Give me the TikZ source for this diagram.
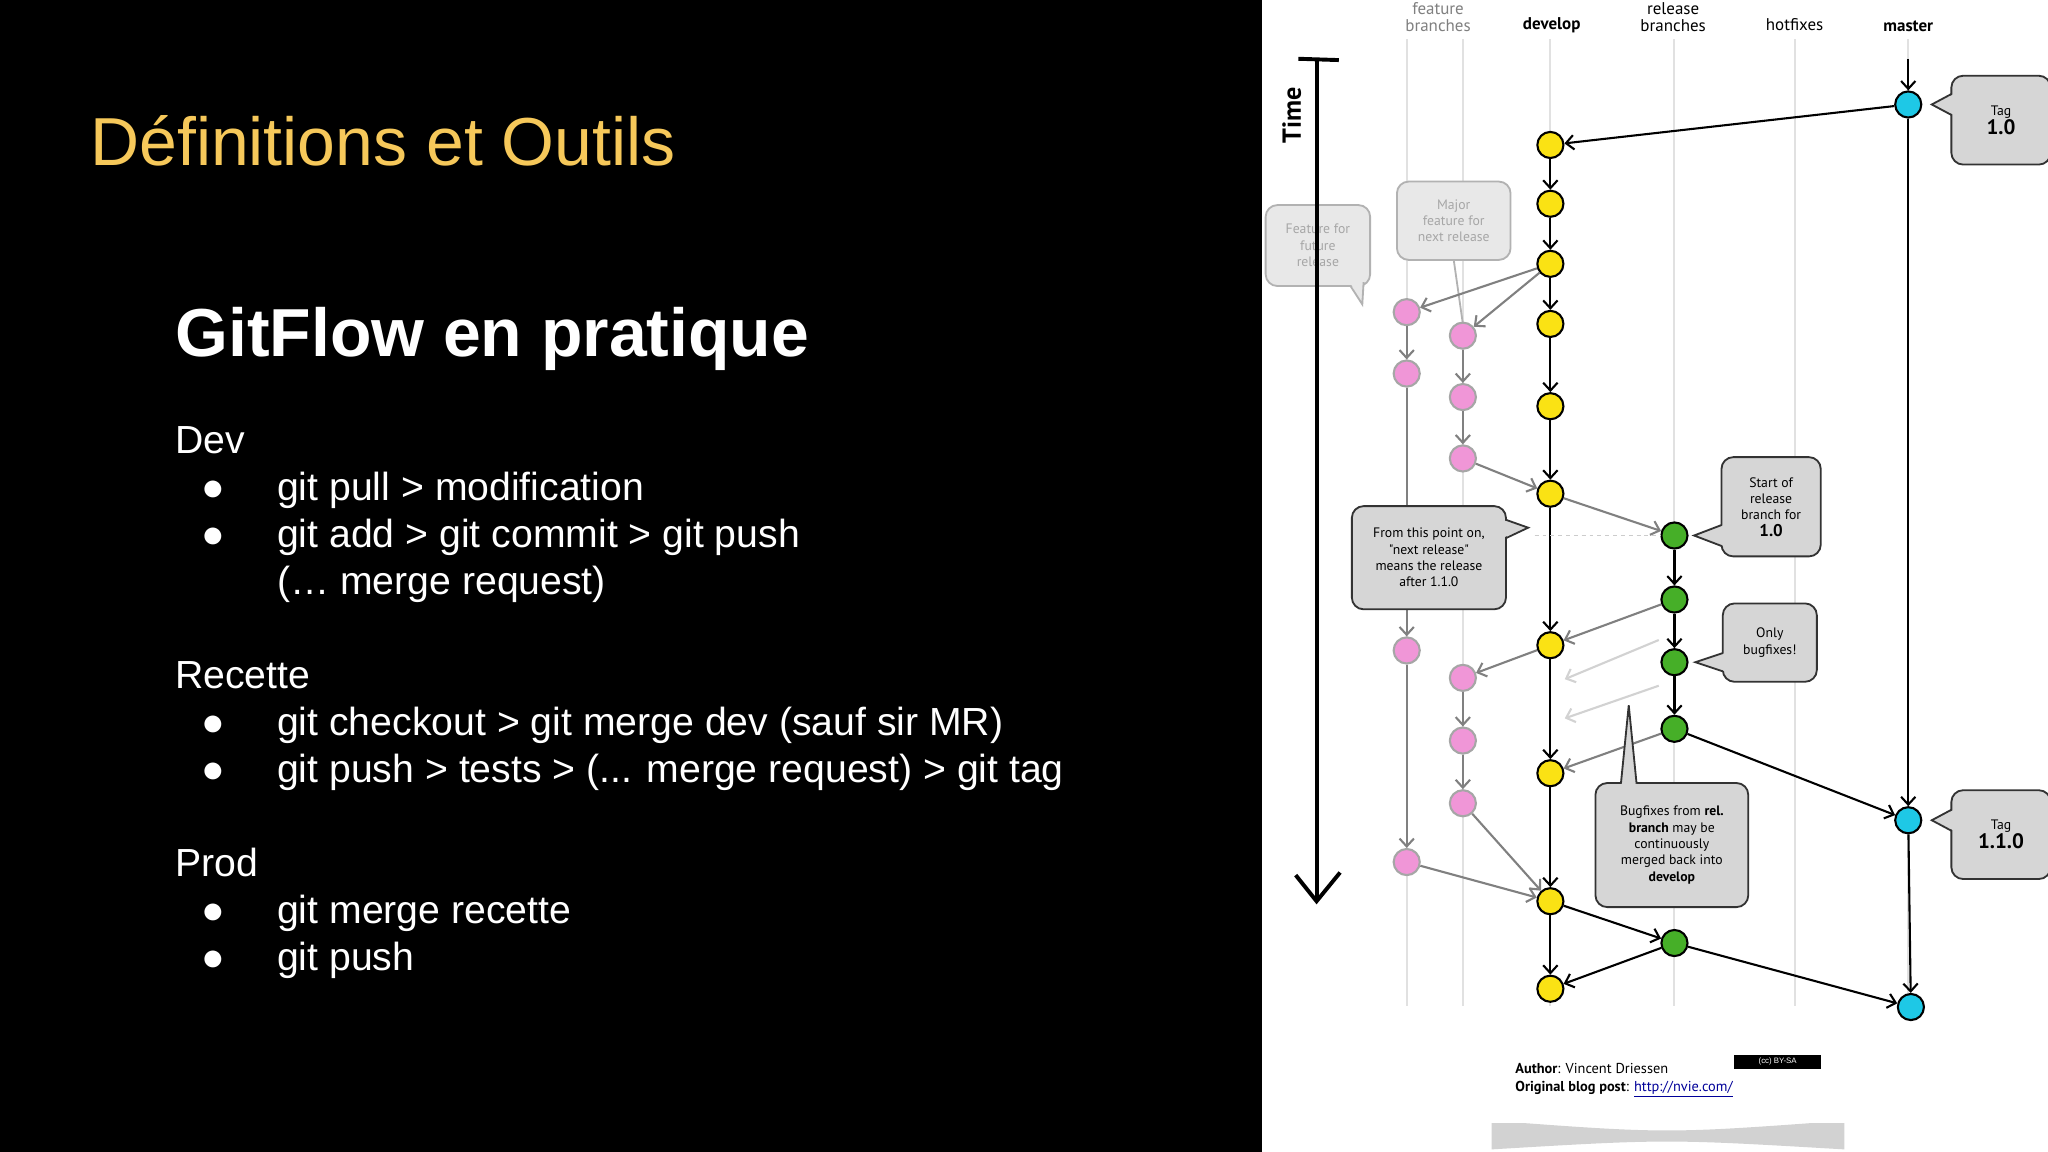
\documentclass[tikz,border=0pt]{standalone}
\usepackage{fontspec}
\setmainfont{Liberation Sans}
\newfontfamily\dia{PT Sans}
\usetikzlibrary{arrows.meta}
\definecolor{titley}{RGB}{246,200,90}
\definecolor{ydev}{RGB}{250,226,20}
\definecolor{pinkf}{RGB}{240,150,215}
\definecolor{greenr}{RGB}{70,175,40}
\definecolor{cyanm}{RGB}{30,200,230}
\definecolor{lane}{RGB}{225,225,225}
\definecolor{cf}{RGB}{214,214,214}
\definecolor{cff}{RGB}{232,232,232}
\tikzset{
  commit/.style={circle,line width=1.6pt,minimum width=18pt,minimum height=20pt,inner sep=0pt},
  dev/.style={commit,draw=black,fill=ydev},
  feat/.style={commit,draw=gray!70,fill=pinkf},
  rel/.style={commit,draw=black,fill=greenr},
  mas/.style={commit,draw=black,fill=cyanm},
  blk/.style={line width=1.6pt,-{Straight Barb[length=6pt,width=11pt]}},
  gry/.style={line width=1.6pt,gray,-{Straight Barb[length=6pt,width=11pt]}},
  fnt/.style={line width=1.6pt,gray!35,-{Straight Barb[length=6pt,width=11pt]}},
  call/.style={draw=black!80,line width=1.4pt,fill=cf,rounded corners=9pt,align=center,font=\dia\fontsize{10.5}{12.5}\selectfont,inner sep=2pt},
  callf/.style={draw=gray!60,line width=1.4pt,fill=cff,rounded corners=9pt,align=center,font=\dia\fontsize{10.5}{12.5}\selectfont,text=gray!70,inner sep=2pt},
  hdr/.style={font=\dia\fontsize{13}{13}\selectfont,align=center},
  body/.style={anchor=base west,text=white,font=\fontsize{30}{32}\selectfont,inner sep=0pt},
  bul/.style={anchor=base,text=white,font=\fontsize{30}{32}\selectfont,inner sep=0pt}
}
\begin{document}
\begin{tikzpicture}[x=1pt,y=-1pt]
\useasboundingbox (0,0) rectangle (1568,882);
\fill[black] (0,0) rectangle (966,882);
\fill[white] (966,0) rectangle (1568,882);
% left text
\node[anchor=base west,text=titley,font=\fontsize{52}{56}\selectfont,inner sep=0pt] (title) at (69,127) {Définitions et Outils};
\node[anchor=base west,text=white,font=\bfseries\fontsize{52}{56}\selectfont,inner sep=0pt] (sub) at (134,273) {GitFlow en pratique};
\node[body] (t1) at (134,347) {Dev};
\node[bul] (b1) at (163,383) {●}; \node[body] (t2) at (212,383) {git pull > modification};
\node[bul] (b2) at (163,419) {●}; \node[body] (t3) at (212,419) {git add > git commit > git push};
\node[body] (t4) at (212,455) {(… merge request)};
\node[body] (t5) at (134,527) {Recette};
\node[bul] (b3) at (163,563) {●}; \node[body] (t6) at (212,563) {git checkout > git merge dev (sauf sir MR)};
\node[bul] (b4) at (163,599) {●}; \node[body] (t7) at (212,599) {git push > tests > (... merge request) > git tag};
\node[body] (t8) at (134,671) {Prod};
\node[bul] (b5) at (163,707) {●}; \node[body] (t9) at (212,707) {git merge recette};
\node[bul] (b6) at (163,743) {●}; \node[body] (t10) at (212,743) {git push};
% lanes
\foreach \x in {1077,1120,1187,1282,1374,1461} \draw[lane,line width=1.5pt] (\x,30) -- (\x,770);
\node[hdr,text=gray] (h1) at (1101,13) {feature\\branches};
\node[hdr,font=\dia\bfseries\fontsize{13}{13}\selectfont] (h2) at (1188,19) {develop};
\node[hdr] (h3) at (1281,13) {release\\branches};
\node[hdr] (h4) at (1374,19) {hotfixes};
\node[hdr,font=\dia\bfseries\fontsize{13}{13}\selectfont] (h5) at (1461,20) {master};
% callouts behind
\node[callf,minimum width=80pt,minimum height=62pt] (cfut) at (1009,188) {Feature for\\future\\release};
\fill[cff] (1034,217) -- (1043,233) -- (1044,214) -- cycle;
\draw[gray!60,line width=1.4pt] (1034,219) -- (1043,233) -- (1044,216);
\node[callf,minimum width=87pt,minimum height=60pt] (cmaj) at (1113,169) {Major\\feature for\\next release};
\draw[gray!60,line width=1.4pt] (1113,199) -- (1120,248);
% time axis
\draw[line width=3pt] (1008,46) -- (1008,690);
\draw[line width=3pt] (994,45) -- (1025,46);
\draw[line width=3pt] (992,670) -- (1008,690) -- (1026,668);
\node[rotate=90,font=\dia\bfseries\fontsize{20}{20}\selectfont] (time) at (989,88) {Time};
% commits
\foreach \n/\y in {d1/111,d2/156,d3/202,d4/248,d5/311,d6/378,d7/494,d8/592,d9/690,d10/757} \node[dev] (\n) at (1187,\y) {};
\node[mas] (m1) at (1461,80) {}; \node[mas] (m2) at (1461,628) {}; \node[mas] (m3) at (1463,771) {};
\coordinate (mtop) at (1461,45);
\foreach \n/\y in {f1/239,f2/286,f3/498,f4/660} \node[feat] (\n) at (1077,\y) {};
\foreach \n/\y in {g1/257,g2/304,g3/351,g4/519,g5/567,g6/615} \node[feat] (\n) at (1120,\y) {};
\foreach \n/\y in {r1/410,r2/459,r3/507,r4/558,r5/722} \node[rel] (\n) at (1282,\y) {};
% edges
\draw[blk] (mtop) -- (m1);
\draw[blk] (m1) -- (d1);
\draw[blk] (d1)--(d2); \draw[blk] (d2)--(d3); \draw[blk] (d3)--(d4); \draw[blk] (d4)--(d5);
\draw[blk] (d5)--(d6); \draw[blk] (d6)--(d7); \draw[blk] (d7)--(d8); \draw[blk] (d8)--(d9); \draw[blk] (d9)--(d10);
\draw[blk] (m1)--(m2); \draw[blk] (m2)--(m3);
\draw[gry] (d3)--(f1); \draw[gry] (d3)--(g1);
\draw[gry] (f1)--(f2); \draw[gry] (f2)--(f3); \draw[gry] (f3)--(f4); \draw[gry] (f4)--(d9);
\draw[gry] (g1)--(g2); \draw[gry] (g2)--(g3); \draw[gry] (g3)--(d6);
\draw[gry] (d7)--(g4); \draw[gry] (g4)--(g5); \draw[gry] (g5)--(g6); \draw[gry] (g6)--(d9);
\draw[gry] (d6)--(r1);
\draw[blk] (r1)--(r2); \draw[blk] (r2)--(r3); \draw[blk] (r3)--(r4);
\draw[gry] (r2)--(d7);
\coordinate (fa1) at (1198,520); \coordinate (fa2) at (1198,550);
\coordinate (fs1) at (1270,490); \coordinate (fs2) at (1270,525);
\draw[fnt] (fs1)--(fa1); \draw[fnt] (fs2)--(fa2);
\draw[gry] (r4)--(d8);
\draw[blk] (r4)--(m2);
\draw[blk] (d9)--(r5); \draw[blk] (r5)--(d10); \draw[blk] (r5)--(m3);
% callouts
\node[call,minimum width=118pt,minimum height=79pt] (cnext) at (1094,427) {From this point on,\\"next release"\\means the release\\after 1.1.0};
\fill[cf] (1150,398) -- (1170,404) -- (1150,412) -- cycle;
\draw[black!80,line width=1.4pt] (1153,398) -- (1170,404) -- (1153,412);
\coordinate (dsh) at (1175,410);
\draw[gray!40,dashed,line width=1pt] (dsh) -- (r1);
\node[call,minimum width=76pt,minimum height=68pt] (tag1) at (1532,92) {Tag\\{\bfseries\fontsize{16}{18}\selectfont 1.0}};
\fill[cf] (1496,72) -- (1479,80) -- (1496,88) -- cycle;
\draw[black!80,line width=1.4pt] (1494,72) -- (1479,80) -- (1494,88);
\node[call,minimum width=76pt,minimum height=68pt] (tag2) at (1532,639) {Tag\\{\bfseries\fontsize{16}{18}\selectfont 1.1.0}};
\fill[cf] (1496,620) -- (1479,628) -- (1496,636) -- cycle;
\draw[black!80,line width=1.4pt] (1494,620) -- (1479,628) -- (1494,636);
\node[call,minimum width=76pt,minimum height=76pt] (cstart) at (1356,388) {Start of\\release\\branch for\\{\bfseries\fontsize{13}{15}\selectfont 1.0}};
\fill[cf] (1320,402) -- (1297,410) -- (1320,418) -- cycle;
\draw[black!80,line width=1.4pt] (1318,402) -- (1297,410) -- (1318,418);
\node[call,minimum width=72pt,minimum height=60pt] (conly) at (1355,492) {Only\\bugfixes!};
\fill[cf] (1321,500) -- (1298,507) -- (1321,514) -- cycle;
\draw[black!80,line width=1.4pt] (1319,500) -- (1298,507) -- (1319,514);
\node[call,minimum width=117pt,minimum height=95pt] (cbug) at (1280,647) {Bugfixes from \textbf{rel.}\\\textbf{branch} may be\\continuously\\merged back into\\\textbf{develop}};
\fill[cf] (1241,602) -- (1247,540) -- (1253,602) -- cycle;
\draw[black!80,line width=1.4pt] (1241,600) -- (1247,540) -- (1253,600);
% author box
\fill[gray!35] (1142,858) .. controls (1276,868) .. (1412,858) -- (1412,880) .. controls (1276,872) .. (1142,880) -- cycle;
\node[fill=white,minimum width=274pt,minimum height=76pt,inner sep=0pt] (auth) at (1276,822) {};
\node[anchor=base west,font=\dia\fontsize{11}{13}\selectfont,inner sep=0pt] (a1) at (1160,822) {\textbf{Author}: Vincent Driessen};
\node[anchor=base west,font=\dia\fontsize{11}{13}\selectfont,inner sep=0pt] (a2) at (1160,836) {\textbf{Original blog post}: \textcolor{blue!60!black}{\underline{http://nvie.com/}}};
\node[draw=black,fill=black,minimum width=66pt,minimum height=10pt,inner sep=0pt,text=white,font=\fontsize{6}{6}\selectfont] (cc) at (1361,813) {(cc) BY-SA};
\end{tikzpicture}
\end{document}
